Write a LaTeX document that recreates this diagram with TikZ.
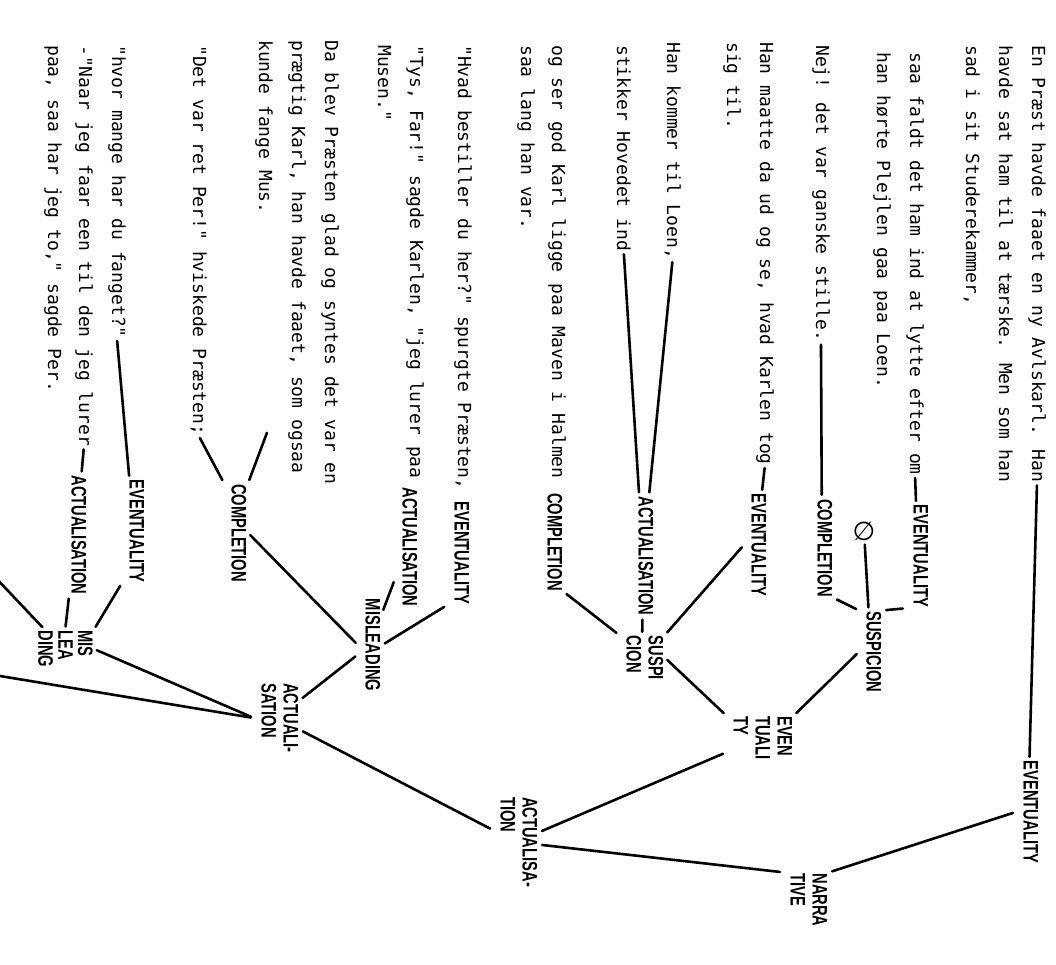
\documentclass[tikz,border=0pt]{standalone}
\usepackage{fontspec}
\usepackage{graphicx}
\usepackage{tikz}
\usetikzlibrary{calc}
\newfontfamily\typefont{DejaVu Sans Mono}
\newfontfamily\handfont{Liberation Sans}
\newfontfamily\symfont{DejaVu Sans}
\newcommand{\hw}[2][1]{\scalebox{0.7}[1]{\renewcommand{\arraystretch}{#1}\begin{tabular}{@{}l@{}}#2\end{tabular}}}

\begin{document}
\begin{tikzpicture}[
  x=1pt, y=-1pt,
  typed/.style={rotate=-90, anchor=base west, inner sep=0pt,
                font=\typefont\fontsize{18}{22}\selectfont},
  hand/.style={rotate=-90, inner sep=1pt,
               font=\handfont\bfseries\fontsize{21}{22}\selectfont},
  link/.style={line width=2.6pt, line cap=round, shorten <=3pt, shorten >=3pt}
]
\useasboundingbox (0,0) rectangle (1056,965);
\fill[white] (0,0) rectangle (1056,965);

\node[typed] (a1) at (1032,45) {En Præst havde faaet en ny Avlskarl. Han};
\node[typed] (a2) at (999,45) {havde sat ham til at tærske. Men som han};
\node[typed] (a3) at (966,45) {sad i sit Studerekammer,};
\node[typed] (b1) at (910,52) {saa faldt det ham ind at lytte efter om};
\node[typed] (b2) at (877,52) {han hørte Plejlen gaa paa Loen.};
\node[typed] (c) at (816,45) {Nej! det var ganske stille.};
\node[typed] (d1) at (760,42) {Han maatte da ud og se, hvad Karlen tog};
\node[typed] (d2) at (727,42) {sig til.};
\node[typed] (e) at (667,42) {Han kommer til Loen,};
\node[typed] (f) at (617,45) {stikker Hovedet ind};
\node[typed] (g1) at (552,45) {og ser god Karl ligge paa Maven i Halmen};
\node[typed] (g2) at (521,45) {saa lang han var.};
\node[typed] (h) at (458,45) {"Hvad bestiller du her?" spurgte Præsten,};
\node[typed] (i1) at (410,45) {"Tys, Far!" sagde Karlen, "jeg lurer paa};
\node[typed] (i2) at (378,45) {Musen."};
\node[typed] (j1) at (325,40) {Da blev Præsten glad og syntes det var en};
\node[typed] (j2) at (292,40) {prægtig Karl, han havde faaet, som ogsaa};
\node[typed] (j3) at (259,40) {kunde fange Mus.};
\node[typed] (k) at (193,45) {"Det var ret Per!" hviskede Præsten;};
\node[typed] (l) at (112,45) {"hvor mange har du fanget?"};
\node[typed] (m1) at (79,45) {-"Naar jeg faar een til den jeg lurer};
\node[typed] (m2) at (48,45) {paa, saa har jeg to," sagde Per.};

\node[hand] (evtA) at (1028,812) {\hw{EVENTUALITY}};
\node[hand] (narr) at (806,900) {\hw{NARRA\\TIVE}};
\node[hand] (evtB) at (918,556) {\hw{EVENTUALITY}};
\node[font=\symfont\fontsize{26}{26}\selectfont, inner sep=1pt] (empt) at (864,531) {∅};
\node[hand] (susp) at (871,652) {\hw{SUSPICION}};
\node[hand] (cmpC) at (822,548) {\hw{COMPLETION}};
\node[hand] (evtD) at (756,545) {\hw{EVENTUALITY}};
\node[hand] (eta) at (760,738) {\hw{EVEN\\TUALI\\TY}};
\node[hand] (actC) at (643,556) {\hw{ACTUALISATION}};
\node[hand] (cmpG) at (552,542) {\hw{COMPLETION}};
\node[hand] (suspi) at (642,658) {\hw{SUSPI\\CION}};
\node[hand] (actT) at (516,842) {\hw{ACTUALISA-\\TION}};
\node[hand] (evtH) at (459,553) {\hw{EVENTUALITY}};
\node[hand] (actI) at (407,547) {\hw{ACTUALISATION}};
\node[hand] (misl) at (370,645) {\hw{MISLEADING}};
\node[hand] (cmpK) at (236,533) {\hw{COMPLETION}};
\node[hand] (actS) at (277,718) {\hw{ACTUALI-\\SATION}};
\node[hand] (evtL) at (134,531) {\hw{EVENTUALITY}};
\node[hand] (actN) at (76,535) {\hw{ACTUALISATION}};
\node[hand] (mld) at (63,649) {\hw[0.8]{MIS\\LEA\\DING}};

\coordinate (jOut) at (268,430);
\coordinate (offA) at (-6,576);
\coordinate (offB) at (-6,675);

\draw[link] (a1.east) -- (evtA);
\draw[link] (evtA.south) -- (narr.north west);
\draw[link] (b1.east) -- (evtB);
\draw[link] (evtB.south east) -- (susp.north west);
\draw[link] (empt) -- (susp);
\draw[link] (c.east) -- (cmpC);
\draw[link] (cmpC.north east) -- (susp.south west);
\draw[link] (susp.south) -- (eta.north west);
\draw[link] (d1.east) -- (evtD);
\draw[link] (evtD.south) -- (suspi.north west);
\draw[link] (suspi.north) -- (eta.south west);
\draw[link] (e.east) -- (actC);
\draw[link] (f.east) -- (actC);
\draw[link] (actC) -- (suspi);
\draw[link] (cmpG.north east) -- (suspi.south west);
\draw[link] (eta) -- (actT);
\draw[link] (actT) -- (narr.south west);
\draw[link] (evtH.south east) -- (misl.north);
\draw[link] (actI) -- (misl);
\draw[link] (jOut) -- (cmpK.north west);
\draw[link] (k.east) -- (cmpK.south west);
\draw[link] (cmpK.north) -- (misl.south);
\draw[link] (misl) -- (actS);
\draw[link] (actS) -- (actT);
\draw[link] (l.east) -- (evtL);
\draw[link] (m1.east) -- (actN);
\draw[link] (evtL.south east) -- (mld.north west);
\draw[link] (actN) -- (mld);
\draw[link] (mld.north) -- (actS.south);
\draw[link] (offA) -- (mld);
\draw[link] (offB) -- (actS.south);
\end{tikzpicture}
\end{document}
